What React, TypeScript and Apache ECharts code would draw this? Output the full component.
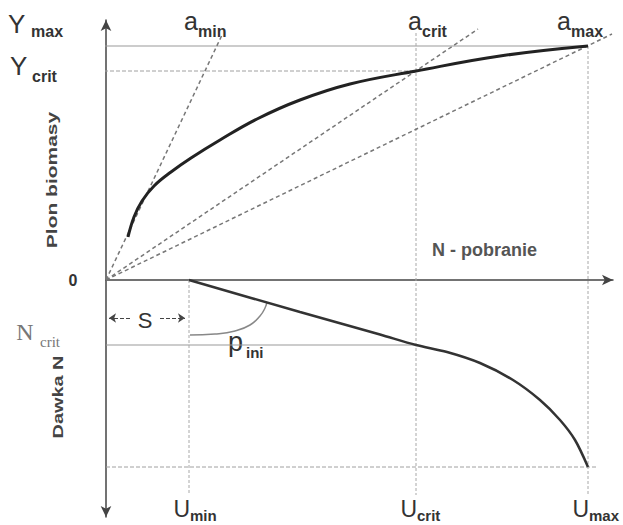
import React, { useEffect, useRef } from "react";
import * as echarts from "echarts";

// key levels (data units)
const U_NAMES = ["min", "crit", "max"];
const U_VALUES = [1.66, 6.2, 9.64];
const Y_MAX = 4.68;
const Y_CRIT = 4.18;
const N_CRIT = -1.3;
const N_BOTTOM = -3.74;

// biomass yield vs N uptake (upper panel)
const biomassCurve = [
  [0.44, 0.86], [0.56, 1.26], [0.72, 1.58], [0.96, 1.88], [1.3, 2.16], [1.7, 2.44],
  [2.28, 2.8], [3.02, 3.22], [3.88, 3.6], [4.88, 3.92], [6.2, 4.18], [7.88, 4.48], [9.64, 4.68],
];
// N dose vs N uptake (lower panel)
const doseCurve = [
  [1.66, 0], [3.88, -0.64], [5.48, -1.09], [6.2, -1.3], [6.82, -1.44], [7.48, -1.66],
  [8.14, -2.0], [8.68, -2.4], [9.08, -2.8], [9.38, -3.2], [9.64, -3.74],
];
// rays from origin (a_min, a_crit, a_max)
const rayEnds = [[2.32, 4.9], [7.44, 5.02], [10.12, 4.92]];
// p_ini arc
const pIniArc = [
  [1.68, -1.1], [2.18, -1.08], [2.58, -1.02], [2.88, -0.9], [3.08, -0.72], [3.18, -0.56], [3.22, -0.44],
];

const SANS = "'Liberation Sans', Arial, sans-serif";
const SERIF = "'Liberation Serif', 'Times New Roman', serif";

function txt(text: string, x: number, y: number, o: any = {}) {
  const align = o.align || "left";
  const v = o.v || "middle";
  return {
    type: "text",
    x,
    y,
    rotation: o.rotation || 0,
    scaleX: o.scaleX || 1,
    scaleY: 1,
    silent: true,
    style: {
      text,
      fill: o.fill || "#333",
      fontSize: o.size || 16,
      fontFamily: o.family || SANS,
      fontWeight: o.weight || "normal",
      align,
      textAlign: align,
      verticalAlign: v,
      textVerticalAlign: v,
    },
  };
}

function lineSeries(data: number[][], style: any, smooth: any = false, extra: any = {}) {
  return {
    type: "line",
    data,
    symbol: "none",
    smooth,
    clip: false,
    silent: true,
    lineStyle: style,
    z: style.z || 2,
    ...extra,
  };
}

export default function App() {
  const ref = useRef<HTMLDivElement>(null);
  useEffect(() => {
    if (!ref.current) return;
    const chart = echarts.init(ref.current, undefined, { renderer: "svg" });
    const guide = { color: "#a8a8a8", width: 1, type: [3, 2] };
    const ray = { color: "#777", width: 1.5, type: [4, 3] };
    chart.setOption({
      animation: false,
      backgroundColor: "#fff",
      grid: { left: 106, top: 20, width: 507, height: 497 },
      xAxis: {
        type: "value",
        min: 0,
        max: 10.14,
        axisLine: { show: true, onZero: true, symbol: ["none", "arrow"], symbolSize: [8, 11], lineStyle: { color: "#444", width: 1.5 } },
        axisTick: { show: false },
        axisLabel: { show: false },
        splitLine: { show: false },
      },
      yAxis: {
        type: "value",
        min: -4.74,
        max: 5.2,
        axisLine: { show: true, onZero: true, symbol: ["arrow", "arrow"], symbolSize: [8, 11], lineStyle: { color: "#444", width: 1.5 } },
        axisTick: { show: false },
        axisLabel: { show: false },
        splitLine: { show: false },
      },
      series: [
        lineSeries([[-0.48, Y_MAX], [U_VALUES[2], Y_MAX]], { color: "#999", width: 1 }),
        lineSeries([[-0.52, Y_CRIT], [U_VALUES[1], Y_CRIT]], { color: "#a0a0a0", width: 1, type: [4, 2] }),
        lineSeries([[0, N_CRIT], [U_VALUES[1], N_CRIT]], { color: "#999", width: 1 }),
        lineSeries([[0, N_BOTTOM], [9.84, N_BOTTOM]], { color: "#a0a0a0", width: 1, type: [4, 2] }),
        lineSeries([[U_VALUES[0], 0], [U_VALUES[0], -4.3]], guide),
        lineSeries([[U_VALUES[1], 4.94], [U_VALUES[1], -4.3]], guide),
        lineSeries([[U_VALUES[2], Y_MAX], [U_VALUES[2], -4.3]], guide),
        ...rayEnds.map((e) => lineSeries([[0, 0], e], ray)),
        lineSeries(pIniArc, { color: "#888", width: 1.5 }, true),
        lineSeries(biomassCurve, { color: "#222", width: 3, z: 5 }, 0.4),
        lineSeries(doseCurve, { color: "#333", width: 2.5, z: 5 }, 0.3),
        {
          type: "line",
          data: [],
          silent: true,
          markLine: {
            silent: true,
            symbol: ["none", "arrow"],
            symbolSize: 7,
            label: { show: false },
            lineStyle: { color: "#444", width: 1.2, type: [4, 2] },
            data: [
              [{ coord: [0.48, -0.76] }, { coord: [0.06, -0.76] }],
              [{ coord: [1.08, -0.76] }, { coord: [1.58, -0.76] }],
            ],
          },
        },
      ],
    });

    const px = (x: number, y: number) => chart.convertToPixel({ gridIndex: 0 }, [x, y]) as number[];
    const g: any[] = [];
    const yMaxP = px(0, Y_MAX)[1];
    const yCritP = px(0, Y_CRIT)[1];
    g.push(txt("Y", 8, yMaxP - 22, { size: 26 }));
    g.push(txt("max", 31, yMaxP - 15, { size: 16, weight: "bold" }));
    g.push(txt("Y", 10, yCritP - 5, { size: 26 }));
    g.push(txt("crit", 32, yCritP + 5, { size: 16, weight: "bold" }));
    // a labels
    [[184, "min"], [408, "crit"], [557, "max"]].forEach(([x, s]: any) => {
      g.push(txt("a", x, 21, { size: 25 }));
      g.push(txt(s, x + 14, 31, { size: 16, weight: "bold" }));
    });
    // U labels
    U_VALUES.forEach((u, i) => {
      const p = px(u, 0);
      g.push(txt("U", p[0] + 1, 509, { size: 23, align: "right" }));
      g.push(txt(U_NAMES[i], p[0] + 1, 515, { size: 15, weight: "bold" }));
    });
    const o = px(0, 0);
    g.push(txt("0", o[0] - 33, o[1], { size: 16, weight: "bold", align: "center" }));
    g.push(txt("S", 145, 320, { size: 22, align: "center" }));
    g.push(txt("N", 25, 332, { size: 24, family: SERIF, fill: "#777", align: "center" }));
    g.push(txt("crit", 40, 342, { size: 15, family: SERIF, fill: "#777" }));
    g.push(txt("p", 228, 342, { size: 27 }));
    g.push(txt("ini", 246, 352, { size: 15, weight: "bold" }));
    g.push(txt("N - pobranie", 432, 250, { size: 18, weight: "bold", fill: "#555" }));
    g.push(txt("Plon biomasy", 52, 180, { size: 14, weight: "bold", fill: "#444", align: "center", rotation: Math.PI / 2, scaleX: 1.5 }));
    g.push(txt("Dawka N", 58, 397, { size: 14, weight: "bold", fill: "#444", align: "center", rotation: Math.PI / 2, scaleX: 1.42 }));
    chart.setOption({ graphic: { elements: g } });

    return () => chart.dispose();
  }, []);
  return <div ref={ref} style={{ position: "fixed", left: 0, top: 0, width: 623, height: 525, background: "#fff" }} />;
}
